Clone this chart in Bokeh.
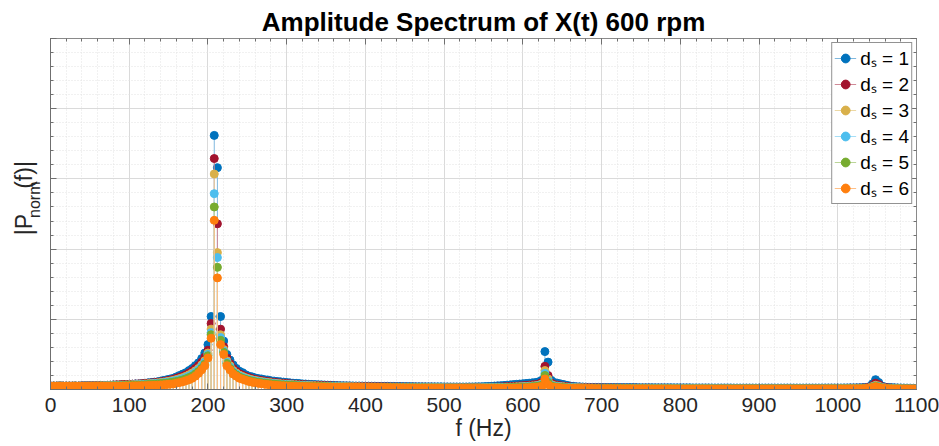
import numpy as np
from bokeh.plotting import figure
from bokeh.layouts import row
from bokeh.models import (ColumnDataSource, Range1d, SingleIntervalTicker, Legend,
                          LegendItem, CustomJSTickFormatter, LinearAxis)
from bokeh.core.properties import value
from bokeh.embed import file_html
from bokeh.resources import INLINE

# ---------------- data ----------------
title_text = "Amplitude Spectrum of X(t) 600 rpm"
x_label = "f (Hz)"
y_label_parts = ["|P", "norm", "(f)|"]          # |P_norm(f)|
series_labels = ["dₛ = 1", "dₛ = 2", "dₛ = 3", "dₛ = 4", "dₛ = 5", "dₛ = 6"]
series_colors = ["#0072BD", "#A2142F", "#D9B04A", "#4DBEEE", "#77AC30", "#FF7F0E"]
stem_colors = ["#80B8DE", "#D08A97", "#ECD8A4", "#A6DEF6", "#BBD598", "#FFBF86"]

freq_hz = np.arange(0, 1101, 4)   # spectral bins, 4 Hz apart

amp_ds1 = [
    0.05, 0.05, 0.05, 0.05, 0.05, 0.05, 0.05, 0.05, 0.05, 0.05, 0.055, 0.055, 0.055, 0.055, 0.055, 0.055, 0.06, 0.06, 0.06, 0.06, 0.065, 0.065, 0.065, 0.07, 0.07,
    0.075, 0.075, 0.08, 0.08, 0.085, 0.09, 0.095, 0.1, 0.105, 0.11, 0.12, 0.13, 0.14, 0.15, 0.16, 0.18, 0.2, 0.22, 0.24, 0.27, 0.3, 0.34, 0.38, 0.44, 0.52,
    0.64, 1.04, 3.62, 3.16, 1.04, 0.69, 0.5, 0.42, 0.35, 0.3, 0.26, 0.24, 0.21, 0.19, 0.18, 0.165, 0.155, 0.15, 0.14, 0.135, 0.125, 0.12, 0.115, 0.11, 0.105,
    0.1, 0.095, 0.09, 0.088, 0.085, 0.08, 0.078, 0.075, 0.072, 0.07, 0.068, 0.066, 0.064, 0.062, 0.06, 0.058, 0.056, 0.055, 0.054, 0.053, 0.052, 0.051, 0.05, 0.05, 0.049,
    0.048, 0.048, 0.047, 0.047, 0.046, 0.046, 0.045, 0.045, 0.044, 0.044, 0.043, 0.043, 0.042, 0.042, 0.041, 0.041, 0.04, 0.04, 0.04, 0.039, 0.039, 0.039, 0.038, 0.038, 0.038,
    0.037, 0.037, 0.036, 0.036, 0.036, 0.036, 0.036, 0.036, 0.037, 0.037, 0.038, 0.039, 0.04, 0.042, 0.044, 0.046, 0.049, 0.052, 0.055, 0.058, 0.062, 0.066, 0.07, 0.074, 0.078,
    0.082, 0.086, 0.09, 0.095, 0.1, 0.11, 0.13, 0.54, 0.39, 0.13, 0.1, 0.09, 0.08, 0.07, 0.06, 0.05, 0.045, 0.04, 0.038, 0.036, 0.034, 0.032, 0.031, 0.03, 0.03,
    0.029, 0.029, 0.029, 0.028, 0.028, 0.028, 0.028, 0.027, 0.027, 0.027, 0.027, 0.027, 0.026, 0.026, 0.026, 0.026, 0.026, 0.025, 0.025, 0.025, 0.025, 0.025, 0.025, 0.024, 0.024,
    0.024, 0.024, 0.024, 0.024, 0.023, 0.023, 0.023, 0.023, 0.023, 0.023, 0.022, 0.022, 0.022, 0.022, 0.022, 0.022, 0.022, 0.021, 0.021, 0.021, 0.021, 0.021, 0.021, 0.021, 0.021,
    0.021, 0.021, 0.021, 0.021, 0.021, 0.021, 0.021, 0.021, 0.021, 0.021, 0.021, 0.021, 0.021, 0.021, 0.021, 0.021, 0.021, 0.021, 0.021, 0.021, 0.022, 0.022, 0.022, 0.022, 0.022,
    0.022, 0.022, 0.023, 0.023, 0.024, 0.024, 0.025, 0.026, 0.027, 0.03, 0.04, 0.08, 0.14, 0.1, 0.05, 0.035, 0.03, 0.027, 0.025, 0.023, 0.022, 0.021, 0.02, 0.019, 0.018,
    0.016,
]
amp_ds2 = [
    0.05, 0.05, 0.05, 0.05, 0.05, 0.05, 0.05, 0.05, 0.05, 0.05, 0.052, 0.052, 0.053, 0.054, 0.055, 0.056, 0.057, 0.058, 0.06, 0.062, 0.064, 0.066, 0.068, 0.07, 0.072,
    0.074, 0.076, 0.078, 0.08, 0.083, 0.086, 0.09, 0.094, 0.098, 0.103, 0.11, 0.117, 0.125, 0.135, 0.145, 0.16, 0.175, 0.19, 0.21, 0.235, 0.265, 0.3, 0.34, 0.39, 0.46,
    0.56, 0.94, 3.29, 2.36, 0.86, 0.61, 0.45, 0.37, 0.3, 0.26, 0.225, 0.205, 0.185, 0.17, 0.155, 0.145, 0.135, 0.128, 0.12, 0.114, 0.108, 0.102, 0.097, 0.093, 0.089,
    0.085, 0.081, 0.078, 0.075, 0.072, 0.069, 0.067, 0.064, 0.062, 0.06, 0.058, 0.056, 0.055, 0.053, 0.052, 0.05, 0.049, 0.048, 0.047, 0.046, 0.045, 0.044, 0.043, 0.042, 0.042,
    0.041, 0.041, 0.04, 0.04, 0.039, 0.039, 0.038, 0.038, 0.037, 0.037, 0.036, 0.036, 0.035, 0.035, 0.034, 0.034, 0.034, 0.033, 0.033, 0.033, 0.032, 0.032, 0.032, 0.031, 0.031,
    0.031, 0.03, 0.03, 0.03, 0.03, 0.029, 0.029, 0.029, 0.029, 0.029, 0.03, 0.03, 0.031, 0.031, 0.032, 0.033, 0.034, 0.035, 0.037, 0.039, 0.041, 0.043, 0.046, 0.049, 0.052,
    0.055, 0.058, 0.062, 0.066, 0.07, 0.078, 0.1, 0.33, 0.2, 0.09, 0.07, 0.06, 0.055, 0.048, 0.042, 0.038, 0.035, 0.032, 0.03, 0.028, 0.027, 0.026, 0.025, 0.024, 0.024,
    0.023, 0.023, 0.022, 0.022, 0.022, 0.021, 0.021, 0.021, 0.02, 0.02, 0.02, 0.02, 0.019, 0.019, 0.019, 0.019, 0.018, 0.018, 0.018, 0.018, 0.018, 0.017, 0.017, 0.017, 0.017,
    0.017, 0.017, 0.016, 0.016, 0.016, 0.016, 0.016, 0.016, 0.016, 0.016, 0.015, 0.015, 0.015, 0.015, 0.015, 0.015, 0.015, 0.015, 0.015, 0.015, 0.015, 0.015, 0.015, 0.015, 0.015,
    0.015, 0.015, 0.015, 0.015, 0.015, 0.015, 0.015, 0.015, 0.015, 0.015, 0.015, 0.015, 0.015, 0.015, 0.015, 0.015, 0.015, 0.015, 0.015, 0.015, 0.015, 0.016, 0.016, 0.016, 0.016,
    0.016, 0.016, 0.017, 0.017, 0.018, 0.018, 0.019, 0.02, 0.021, 0.024, 0.032, 0.055, 0.09, 0.07, 0.04, 0.028, 0.023, 0.02, 0.018, 0.017, 0.016, 0.015, 0.015, 0.014, 0.014,
    0.013,
]
amp_ds3 = [
    0.048, 0.048, 0.048, 0.048, 0.048, 0.048, 0.048, 0.048, 0.048, 0.048, 0.049, 0.049, 0.05, 0.05, 0.051, 0.052, 0.053, 0.054, 0.055, 0.056, 0.058, 0.059, 0.061, 0.063, 0.065,
    0.067, 0.069, 0.071, 0.073, 0.076, 0.079, 0.082, 0.086, 0.09, 0.094, 0.1, 0.106, 0.113, 0.121, 0.13, 0.142, 0.155, 0.17, 0.188, 0.21, 0.235, 0.265, 0.3, 0.35, 0.41,
    0.52, 0.86, 3.07, 1.95, 0.78, 0.57, 0.41, 0.34, 0.27, 0.235, 0.205, 0.185, 0.167, 0.152, 0.14, 0.13, 0.121, 0.114, 0.107, 0.101, 0.096, 0.091, 0.086, 0.082, 0.078,
    0.075, 0.072, 0.069, 0.066, 0.064, 0.061, 0.059, 0.057, 0.055, 0.053, 0.051, 0.05, 0.048, 0.047, 0.046, 0.045, 0.044, 0.043, 0.042, 0.041, 0.04, 0.039, 0.038, 0.038, 0.037,
    0.036, 0.036, 0.035, 0.035, 0.034, 0.034, 0.033, 0.033, 0.033, 0.032, 0.032, 0.031, 0.031, 0.031, 0.03, 0.03, 0.03, 0.029, 0.029, 0.029, 0.028, 0.028, 0.028, 0.027, 0.027,
    0.027, 0.026, 0.026, 0.026, 0.026, 0.025, 0.025, 0.025, 0.025, 0.025, 0.025, 0.026, 0.026, 0.027, 0.027, 0.028, 0.028, 0.029, 0.03, 0.031, 0.033, 0.034, 0.036, 0.038, 0.04,
    0.042, 0.045, 0.048, 0.051, 0.055, 0.062, 0.08, 0.27, 0.15, 0.07, 0.055, 0.048, 0.043, 0.038, 0.034, 0.031, 0.029, 0.027, 0.025, 0.024, 0.023, 0.022, 0.021, 0.02, 0.02,
    0.019, 0.019, 0.019, 0.018, 0.018, 0.018, 0.017, 0.017, 0.017, 0.017, 0.016, 0.016, 0.016, 0.016, 0.016, 0.015, 0.015, 0.015, 0.015, 0.015, 0.014, 0.014, 0.014, 0.014, 0.014,
    0.014, 0.014, 0.013, 0.013, 0.013, 0.013, 0.013, 0.013, 0.013, 0.013, 0.013, 0.012, 0.012, 0.012, 0.012, 0.012, 0.012, 0.012, 0.012, 0.012, 0.012, 0.012, 0.012, 0.012, 0.012,
    0.012, 0.012, 0.012, 0.012, 0.012, 0.012, 0.012, 0.012, 0.012, 0.012, 0.012, 0.012, 0.012, 0.012, 0.012, 0.012, 0.012, 0.012, 0.012, 0.012, 0.012, 0.012, 0.013, 0.013, 0.013,
    0.013, 0.013, 0.013, 0.014, 0.014, 0.015, 0.015, 0.016, 0.017, 0.019, 0.025, 0.042, 0.06, 0.05, 0.03, 0.022, 0.018, 0.016, 0.014, 0.013, 0.013, 0.012, 0.012, 0.011, 0.011,
    0.011,
]
amp_ds4 = [
    0.047, 0.047, 0.047, 0.047, 0.047, 0.047, 0.047, 0.047, 0.047, 0.047, 0.048, 0.048, 0.048, 0.049, 0.049, 0.05, 0.051, 0.052, 0.053, 0.054, 0.055, 0.056, 0.058, 0.059, 0.061,
    0.063, 0.065, 0.067, 0.069, 0.071, 0.074, 0.077, 0.08, 0.084, 0.088, 0.093, 0.098, 0.104, 0.111, 0.12, 0.13, 0.142, 0.155, 0.172, 0.192, 0.215, 0.245, 0.28, 0.33, 0.39,
    0.5, 0.81, 2.79, 1.88, 0.74, 0.55, 0.39, 0.32, 0.255, 0.222, 0.193, 0.174, 0.157, 0.143, 0.131, 0.121, 0.113, 0.106, 0.1, 0.094, 0.089, 0.084, 0.08, 0.076, 0.073,
    0.07, 0.067, 0.064, 0.062, 0.059, 0.057, 0.055, 0.053, 0.051, 0.049, 0.048, 0.046, 0.045, 0.044, 0.043, 0.042, 0.041, 0.04, 0.039, 0.038, 0.037, 0.037, 0.036, 0.035, 0.035,
    0.034, 0.034, 0.033, 0.033, 0.032, 0.032, 0.031, 0.031, 0.03, 0.03, 0.03, 0.029, 0.029, 0.028, 0.028, 0.028, 0.027, 0.027, 0.027, 0.026, 0.026, 0.026, 0.025, 0.025, 0.025,
    0.025, 0.024, 0.024, 0.024, 0.024, 0.023, 0.023, 0.023, 0.023, 0.023, 0.023, 0.023, 0.024, 0.024, 0.025, 0.025, 0.026, 0.026, 0.027, 0.028, 0.029, 0.031, 0.032, 0.034, 0.036,
    0.038, 0.04, 0.043, 0.046, 0.05, 0.056, 0.07, 0.23, 0.12, 0.06, 0.048, 0.042, 0.038, 0.034, 0.031, 0.028, 0.026, 0.024, 0.023, 0.022, 0.021, 0.02, 0.019, 0.018, 0.018,
    0.017, 0.017, 0.017, 0.016, 0.016, 0.016, 0.016, 0.015, 0.015, 0.015, 0.015, 0.014, 0.014, 0.014, 0.014, 0.014, 0.013, 0.013, 0.013, 0.013, 0.013, 0.013, 0.012, 0.012, 0.012,
    0.012, 0.012, 0.012, 0.012, 0.011, 0.011, 0.011, 0.011, 0.011, 0.011, 0.011, 0.011, 0.011, 0.011, 0.011, 0.011, 0.011, 0.011, 0.01, 0.01, 0.01, 0.01, 0.01, 0.01, 0.01,
    0.01, 0.01, 0.01, 0.01, 0.01, 0.01, 0.01, 0.01, 0.01, 0.01, 0.01, 0.01, 0.01, 0.01, 0.01, 0.01, 0.01, 0.01, 0.01, 0.01, 0.01, 0.01, 0.011, 0.011, 0.011,
    0.011, 0.011, 0.011, 0.012, 0.012, 0.012, 0.013, 0.014, 0.015, 0.017, 0.022, 0.036, 0.05, 0.042, 0.026, 0.019, 0.015, 0.013, 0.012, 0.011, 0.011, 0.01, 0.01, 0.01, 0.009,
    0.009,
]
amp_ds5 = [
    0.046, 0.046, 0.046, 0.046, 0.046, 0.046, 0.046, 0.046, 0.046, 0.046, 0.046, 0.047, 0.047, 0.047, 0.048, 0.048, 0.049, 0.049, 0.05, 0.051, 0.052, 0.053, 0.054, 0.055, 0.056,
    0.058, 0.06, 0.061, 0.063, 0.065, 0.067, 0.07, 0.073, 0.076, 0.08, 0.084, 0.088, 0.093, 0.099, 0.106, 0.115, 0.125, 0.137, 0.152, 0.17, 0.19, 0.22, 0.255, 0.3, 0.36,
    0.48, 0.78, 2.6, 1.74, 0.7, 0.53, 0.37, 0.3, 0.24, 0.207, 0.178, 0.16, 0.145, 0.131, 0.12, 0.111, 0.103, 0.097, 0.091, 0.086, 0.081, 0.077, 0.073, 0.069, 0.066,
    0.063, 0.06, 0.058, 0.055, 0.053, 0.051, 0.049, 0.048, 0.046, 0.045, 0.043, 0.042, 0.041, 0.04, 0.039, 0.038, 0.037, 0.036, 0.035, 0.035, 0.034, 0.033, 0.033, 0.032, 0.032,
    0.031, 0.031, 0.03, 0.03, 0.029, 0.029, 0.028, 0.028, 0.028, 0.027, 0.027, 0.026, 0.026, 0.026, 0.025, 0.025, 0.025, 0.024, 0.024, 0.024, 0.023, 0.023, 0.023, 0.023, 0.022,
    0.022, 0.022, 0.022, 0.021, 0.021, 0.021, 0.021, 0.021, 0.021, 0.021, 0.021, 0.021, 0.021, 0.022, 0.022, 0.022, 0.023, 0.023, 0.024, 0.025, 0.026, 0.027, 0.028, 0.03, 0.031,
    0.033, 0.035, 0.037, 0.04, 0.043, 0.048, 0.06, 0.2, 0.1, 0.05, 0.04, 0.035, 0.031, 0.028, 0.025, 0.023, 0.021, 0.02, 0.019, 0.018, 0.017, 0.016, 0.016, 0.015, 0.015,
    0.015, 0.014, 0.014, 0.014, 0.014, 0.013, 0.013, 0.013, 0.013, 0.013, 0.012, 0.012, 0.012, 0.012, 0.012, 0.011, 0.011, 0.011, 0.011, 0.011, 0.011, 0.011, 0.01, 0.01, 0.01,
    0.01, 0.01, 0.01, 0.01, 0.01, 0.01, 0.009, 0.009, 0.009, 0.009, 0.009, 0.009, 0.009, 0.009, 0.009, 0.009, 0.009, 0.009, 0.009, 0.009, 0.009, 0.009, 0.009, 0.009, 0.009,
    0.009, 0.009, 0.009, 0.009, 0.009, 0.009, 0.009, 0.009, 0.009, 0.009, 0.009, 0.009, 0.009, 0.009, 0.009, 0.009, 0.009, 0.009, 0.009, 0.009, 0.009, 0.009, 0.01, 0.01, 0.01,
    0.01, 0.01, 0.01, 0.01, 0.011, 0.011, 0.012, 0.012, 0.013, 0.015, 0.02, 0.032, 0.045, 0.036, 0.022, 0.016, 0.013, 0.011, 0.01, 0.01, 0.009, 0.009, 0.009, 0.008, 0.008,
    0.008,
]
amp_ds6 = [
    0.045, 0.045, 0.045, 0.045, 0.045, 0.045, 0.045, 0.045, 0.045, 0.045, 0.045, 0.045, 0.045, 0.045, 0.045, 0.045, 0.046, 0.046, 0.046, 0.047, 0.047, 0.048, 0.048, 0.049, 0.05,
    0.05, 0.051, 0.052, 0.053, 0.054, 0.055, 0.056, 0.058, 0.06, 0.062, 0.065, 0.068, 0.072, 0.076, 0.08, 0.09, 0.1, 0.11, 0.125, 0.14, 0.16, 0.19, 0.23, 0.28, 0.34,
    0.45, 0.73, 2.41, 1.59, 0.64, 0.5, 0.34, 0.28, 0.22, 0.19, 0.16, 0.145, 0.13, 0.115, 0.105, 0.095, 0.088, 0.082, 0.076, 0.07, 0.066, 0.062, 0.058, 0.055, 0.052,
    0.05, 0.048, 0.046, 0.044, 0.043, 0.042, 0.041, 0.04, 0.039, 0.038, 0.037, 0.036, 0.036, 0.035, 0.035, 0.034, 0.034, 0.033, 0.033, 0.032, 0.032, 0.031, 0.031, 0.03, 0.03,
    0.03, 0.029, 0.029, 0.028, 0.028, 0.027, 0.027, 0.026, 0.026, 0.025, 0.025, 0.024, 0.024, 0.023, 0.023, 0.022, 0.022, 0.021, 0.021, 0.02, 0.02, 0.02, 0.019, 0.019, 0.019,
    0.018, 0.018, 0.018, 0.017, 0.017, 0.017, 0.016, 0.016, 0.016, 0.016, 0.016, 0.016, 0.016, 0.016, 0.016, 0.017, 0.017, 0.017, 0.018, 0.018, 0.019, 0.019, 0.02, 0.021, 0.022,
    0.023, 0.024, 0.026, 0.028, 0.031, 0.036, 0.045, 0.15, 0.07, 0.04, 0.032, 0.027, 0.024, 0.021, 0.019, 0.018, 0.017, 0.016, 0.015, 0.014, 0.014, 0.013, 0.013, 0.012, 0.012,
    0.012, 0.011, 0.011, 0.011, 0.011, 0.01, 0.01, 0.01, 0.01, 0.01, 0.009, 0.009, 0.009, 0.009, 0.009, 0.009, 0.008, 0.008, 0.008, 0.008, 0.008, 0.008, 0.008, 0.008, 0.007,
    0.007, 0.007, 0.007, 0.007, 0.007, 0.007, 0.007, 0.007, 0.006, 0.006, 0.006, 0.006, 0.006, 0.006, 0.006, 0.006, 0.006, 0.006, 0.006, 0.006, 0.006, 0.006, 0.006, 0.006, 0.006,
    0.006, 0.006, 0.006, 0.006, 0.006, 0.006, 0.006, 0.006, 0.006, 0.006, 0.006, 0.006, 0.006, 0.006, 0.006, 0.006, 0.006, 0.006, 0.006, 0.006, 0.007, 0.007, 0.007, 0.007, 0.007,
    0.008, 0.008, 0.008, 0.008, 0.009, 0.009, 0.01, 0.01, 0.011, 0.013, 0.017, 0.027, 0.04, 0.03, 0.018, 0.013, 0.01, 0.009, 0.008, 0.007, 0.007, 0.007, 0.006, 0.006, 0.006,
    0.006,
]
amplitudes = [amp_ds1, amp_ds2, amp_ds3, amp_ds4, amp_ds5, amp_ds6]
for a in amplitudes:
    assert len(a) == len(freq_hz), len(a)

# ---------------- styles ----------------
FONT = "Liberation Sans"
TXT = "#262626"
AX = "#6f6f6f"
H = 446
LAB_W = 44

# ---------------- main plot ----------------
p = figure(width=939 - LAB_W, height=H, output_backend="svg", toolbar_location=None,
           x_range=Range1d(0, 1100), y_range=Range1d(0, 5),
           min_border_left=6, min_border_right=23, min_border_top=38, min_border_bottom=57)
p.background_fill_color = "white"
p.border_fill_color = "white"
p.outline_line_color = "#8a8a8a"
p.outline_line_width = 1

p.title.text = title_text
p.title.align = "center"
p.title.text_font = FONT
p.title.text_font_size = "26px"
p.title.text_font_style = "bold"
p.title.text_color = "black"
p.title.standoff = 4

# mirrored (label-less) axes on top and right, like a boxed MATLAB axes
top_ax = LinearAxis()
right_ax = LinearAxis()
p.add_layout(top_ax, "above")
p.add_layout(right_ax, "right")

p.xaxis.ticker = SingleIntervalTicker(interval=100, num_minor_ticks=5)
p.yaxis.ticker = SingleIntervalTicker(interval=1, num_minor_ticks=5)
p.yaxis.formatter = CustomJSTickFormatter(code="return ''")
top_ax.formatter = CustomJSTickFormatter(code="return ''")
for ax in list(p.xaxis) + list(p.yaxis):
    ax.axis_line_color = AX
    ax.major_tick_line_color = AX
    ax.minor_tick_line_color = AX
    ax.major_tick_in = 6
    ax.major_tick_out = 0
    ax.minor_tick_in = 3
    ax.minor_tick_out = 0
    ax.major_label_text_font = FONT
    ax.major_label_text_color = TXT
for ax in (top_ax, right_ax):
    ax.major_label_text_font_size = "0px"
    ax.major_label_standoff = 0
    ax.axis_label = None
    ax.axis_line_color = "#8a8a8a"
bottom_ax = p.below[0]
bottom_ax.major_label_text_font_size = "21px"
bottom_ax.major_label_standoff = 8
bottom_ax.axis_label = x_label
bottom_ax.axis_label_text_font = FONT
bottom_ax.axis_label_text_font_size = "23px"
bottom_ax.axis_label_text_font_style = "normal"
bottom_ax.axis_label_text_color = TXT
bottom_ax.axis_label_standoff = 0
p.left[0].major_label_standoff = 0

for g in (p.xgrid[0], p.ygrid[0]):
    g.grid_line_color = "#dadada"
    g.grid_line_width = 1
    g.minor_grid_line_color = "#e2e2e2"
    g.minor_grid_line_dash = "1 2"

items = []
for amp, col, scol, lab in zip(amplitudes, series_colors, stem_colors, series_labels):
    src = ColumnDataSource(dict(f=freq_hz, a=amp, z=[0.0] * len(amp)))
    stems = p.segment(x0="f", y0="z", x1="f", y1="a", source=src,
                      line_color=scol, line_width=1)
    dots = p.scatter(x="f", y="a", source=src, size=8, marker="circle",
                     fill_color=col, line_color=col)
    items.append(LegendItem(label=lab, renderers=[stems, dots]))

legend = Legend(items=items, location="top_right")
legend.margin = 4
legend.padding = 2
legend.spacing = 0
legend.glyph_height = 24
legend.glyph_width = 22
legend.label_height = 24
legend.label_standoff = 4
legend.label_text_font = FONT
legend.label_text_font_size = "19px"
legend.label_text_color = "black"
legend.border_line_color = "#262626"
legend.border_line_width = 1
legend.background_fill_color = "white"
legend.background_fill_alpha = 1.0
p.add_layout(legend)

# ---------------- y-axis label panel: |P_norm(f)| with a real subscript ----------------
lab = figure(width=LAB_W, height=H, output_backend="svg", toolbar_location=None,
             x_range=Range1d(0, LAB_W), y_range=Range1d(0, H),
             min_border=0)
lab.axis.visible = False
lab.grid.visible = False
lab.outline_line_color = None
lab.background_fill_color = "white"
lab.border_fill_color = "white"
# pixel placement of the three pieces (x = baseline side, y = start of each piece, up from bottom)
lab.text(x=[23, 33.5, 23], y=[196, 218, 255], text=y_label_parts,
         angle=np.pi / 2, text_align="left", text_baseline="alphabetic",
         text_font=value(FONT), text_color=TXT,
         text_font_size=["23px", "16px", "23px"])

layout = row(lab, p, spacing=0)
open("out.html", "w").write(file_html(layout, INLINE))
